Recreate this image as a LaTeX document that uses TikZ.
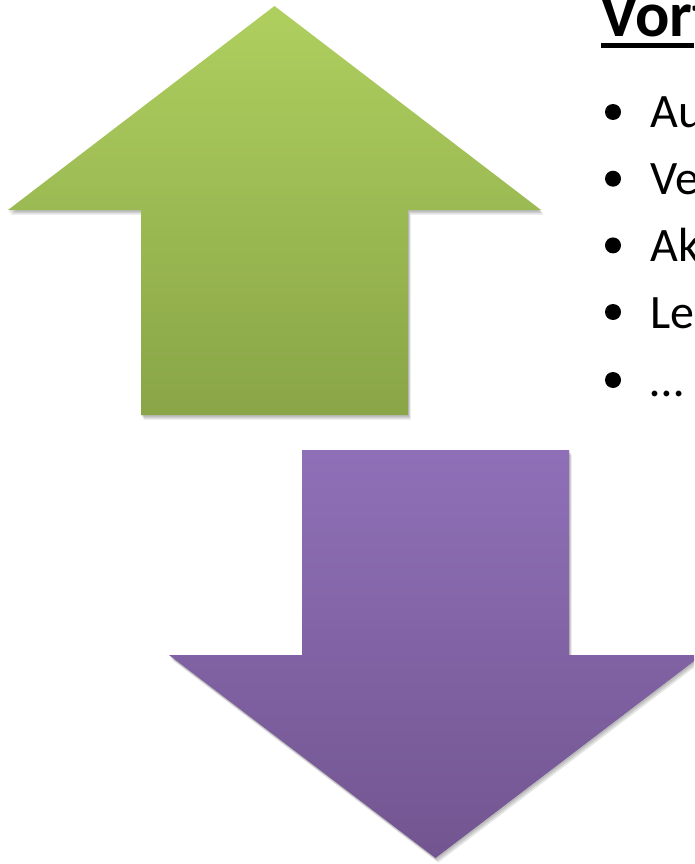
\documentclass[tikz,border=0pt]{standalone}
\usepackage{fontspec}
\setmainfont{Carlito}
\definecolor{gtop}{HTML}{AFCF5F}
\definecolor{gbot}{HTML}{89A547}
\definecolor{ptop}{HTML}{8F70B8}
\definecolor{pbot}{HTML}{725590}
\tikzset{
  shade1/.style={fill=black, opacity=0.10},
  bodytext/.style={anchor=base west, inner sep=0pt, font=\fontsize{48}{56}\selectfont},
  bulletdot/.style={circle, fill=black, inner sep=0pt, minimum size=16pt},
}
\begin{document}
\begin{tikzpicture}[x=1pt,y=-1pt]
\useasboundingbox (0,0) rectangle (694,864);
\clip (0,0) rectangle (694,864);
% green arrow shadow
\foreach \d in {1.5,3,4.5}{
  \fill[shade1, shift={(\d*0.6,\d)}] (274.5,6) -- (541,210) -- (408,210) -- (408,415) -- (141,415) -- (141,210) -- (8,210) -- cycle;
}
\shade[top color=gtop, bottom color=gbot] (274.5,6) -- (541,210) -- (408,210) -- (408,415) -- (141,415) -- (141,210) -- (8,210) -- cycle;
% purple arrow shadow
\foreach \d in {1.5,3,4.5}{
  \fill[shade1, shift={(\d*0.6,\d)}] (302,450) -- (569,450) -- (569,655) -- (702,655) -- (435.5,858) -- (169,655) -- (302,655) -- cycle;
}
\shade[top color=ptop, bottom color=pbot] (302,450) -- (569,450) -- (569,655) -- (702,655) -- (435.5,858) -- (169,655) -- (302,655) -- cycle;
% title
\node[anchor=base west, inner sep=0pt, font=\bfseries\fontsize{64}{72}\selectfont] (title) at (600,37) {Vorteile};
\fill (601,43) rectangle (694,48);
% bullets
\foreach \y/\t [count=\i] in {128/Au,194.7/Ve,261.4/Ak,328/Le,396/…}{
  \node[bulletdot] (b\i) at (613,\y-16) {};
  \node[bodytext] (t\i) at (650,\y) {\t};
}
\end{tikzpicture}
\end{document}
